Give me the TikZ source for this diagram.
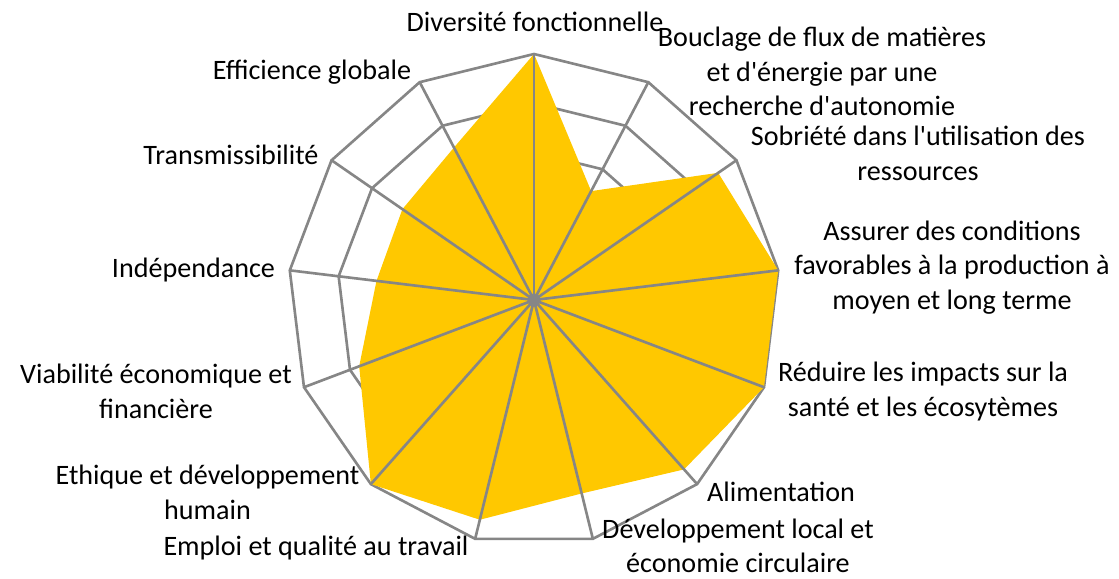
\documentclass[tikz,border=0pt]{standalone}
\usepackage{fontspec}
\setmainfont{Carlito}
\definecolor{gridgray}{RGB}{134,134,134}
\definecolor{score}{RGB}{255,200,0}
\begin{document}
\begin{tikzpicture}[x=0.2mm,y=0.2mm,
        grid/.style={draw=gridgray, line width=1.5pt, line join=miter},
        lbl/.style={align=center, inner sep=0pt, font=\fontsize{16}{19.6}\selectfont}]
        \useasboundingbox (-534,-278) rectangle (585,300);
        % anneaux
        \foreach \r in {0.2,0.4,0.6,0.8,1}
            \draw[grid] (90:\r*246) \foreach \k in {1,...,12} { -- ({90-\k*360/13}:\r*246) } -- cycle;
        % valeurs
        \foreach \v [count=\k from 0] in {1,0.5,0.91,1,1,0.92,0.81,0.92,1,0.76,0.645,0.65,0.7}
            \coordinate (p\k) at ({90-\k*360/13}:\v*246);
        \fill[score] (p0) -- (p1) -- (p2) -- (p3) -- (p4) -- (p5) -- (p6) -- (p7) -- (p8) -- (p9) -- (p10) -- (p11) -- (p12) -- cycle;
        % axes
        \foreach \k in {0,...,12}
            \draw[grid] (0,0) -- ({90-\k*360/13}:246);
        \fill[gridgray] (0,0) circle (1.3mm);
        % libelles
        \node[lbl] (divers) at (1,278) {Diversité fonctionnelle};
        \node[lbl] (bouclage) at (288,228.5) {Bouclage de flux de matières\\et d\textquotesingle énergie par une\\recherche d\textquotesingle autonomie};
        \node[lbl] (sobriete) at (384,146.5) {Sobriété dans l\textquotesingle utilisation des\\ressources};
        \node[lbl] (assurer) at (418,32.5) {Assurer des conditions\\favorables à la production à\\moyen et long terme};
        \node[lbl] (reduire) at (389,-91.5) {Réduire les impacts sur la\\santé et les écosytèmes};
        \node[lbl] (alim) at (247,-192) {Alimentation};
        \node[lbl] (devloc) at (204,-246) {Développement local et\\économie circulaire};
        \node[lbl] (emploi) at (-218,-248) {Emploi et qualité au travail};
        \node[lbl] (ethique) at (-326.5,-192.5) {Ethique et développement\\humain};
        \node[lbl] (viab) at (-378,-91.5) {Viabilité économique et\\financière};
        \node[lbl] (indep) at (-340.5,30) {Indépendance};
        \node[lbl] (transm) at (-303,145) {Transmissibilité};
        \node[lbl] (effic) at (-222,228) {Efficience globale};
        %\draw[grid] (0,0) circle (246);
\end{tikzpicture}
\end{document}
